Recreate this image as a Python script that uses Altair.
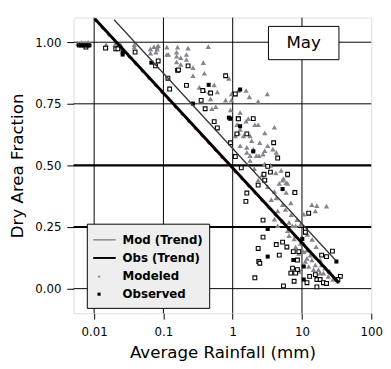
import altair as alt
import pandas as pd

# ---------------- data ----------------
modeled_x = [0.0058, 0.0062, 0.0066, 0.007, 0.0074, 0.0078, 0.0082, 0.0086,
             0.0149, 0.015, 0.02, 0.022, 0.024, 0.023, 0.038, 0.038,
             0.065, 0.073, 0.084, 0.065, 0.078, 0.081, 0.081,
             0.112, 0.112, 0.118, 0.16, 0.155, 0.155, 0.155, 0.178, 0.178,
             0.215, 0.227, 0.215, 0.267, 0.267, 0.377, 0.39, 0.444,
             0.33, 0.39, 0.458, 0.54, 0.6, 0.57, 0.79, 0.96, 0.96, 0.5, 0.48,
             0.88, 1.09, 1.56, 1.74, 2.33, 3.16, 1.21,
             0.93, 1.28, 1.15, 1.56, 2.09, 2.33, 2.9, 4.0, 1.21, 1.43, 1.78, 1.88, 1.28, 1.6, 1.98,
             2.46, 3.2, 2.9, 3.8, 2.4, 1.78, 1.19, 1.28, 1.09, 1.68, 0.93,
             1.6, 2.2, 1.78, 2.05, 2.9, 2.65, 5.0, 5.4, 4.7, 6.2, 7.7, 4.0, 3.6, 5.25, 5.8, 6.9,
             4.46, 4.0, 5.25, 6.5, 8.1, 4.46, 13.9, 15.6, 10.6, 3.2, 2.33, 4.25, 6.2, 5.25, 2.74,
             5.9, 16.4, 22.6, 4.25, 5.9,
             6.2, 6.5, 7.7, 8.1, 9.5, 10.6, 11.8, 13.9, 15.6, 17.3, 20.4, 24, 33, 28, 11.2, 12.5,
             14.7, 18.3, 19.2, 21.6, 11.8, 13.2, 9.0, 7.3, 18.3, 25, 10.6, 9.5,
             3.5, 4.2, 7.0, 8.5, 9.5, 12, 14, 16]
modeled_y = [0.995, 0.99, 1.0, 0.993, 0.998, 0.99, 1.0, 0.995,
             0.99, 0.98, 0.99, 0.985, 0.99, 0.978, 0.99, 0.98,
             0.973, 0.982, 0.986, 0.956, 0.96, 0.98, 0.972,
             0.98, 0.95, 0.95, 0.98, 0.96, 0.92, 0.943, 0.937, 0.91,
             0.95, 0.976, 0.93, 0.897, 0.864, 0.917, 0.874, 0.982,
             0.817, 0.804, 0.798, 0.827, 0.798, 0.738, 0.765, 0.765, 0.79, 0.73, 0.77,
             0.853, 0.79, 0.804, 0.778, 0.76, 0.79, 0.804,
             0.725, 0.715, 0.665, 0.68, 0.665, 0.665, 0.632, 0.655, 0.632, 0.62, 0.62, 0.6, 0.58, 0.573, 0.566,
             0.592, 0.58, 0.56, 0.566, 0.54, 0.54, 0.665, 0.646, 0.62, 0.69, 0.69,
             0.553, 0.54, 0.52, 0.487, 0.507, 0.46, 0.48, 0.447, 0.427, 0.427, 0.394, 0.394, 0.361, 0.341, 0.321, 0.348,
             0.315, 0.282, 0.275, 0.269, 0.255, 0.255, 0.341, 0.315, 0.302, 0.414, 0.44, 0.553, 0.46, 0.44, 0.546,
             0.39, 0.337, 0.335, 0.368, 0.43,
             0.235, 0.215, 0.202, 0.169, 0.183, 0.15, 0.123, 0.116, 0.096, 0.077, 0.063, 0.05, 0.03, 0.037, 0.11, 0.09,
             0.077, 0.063, 0.096, 0.083, 0.156, 0.136, 0.143, 0.255, 0.116, 0.07, 0.183, 0.07,
             0.5, 0.47, 0.3, 0.28, 0.26, 0.22, 0.2, 0.17]

observed_x = [0.0076, 0.0146, 0.0205, 0.022, 0.039, 0.084, 0.116, 0.16, 0.077, 0.165, 0.227, 0.123, 0.215,
              0.37, 0.48, 0.35, 0.79, 1.09, 0.40, 0.54, 0.6, 1.2, 1.21, 1.98, 1.15, 1.6, 0.93, 3.9,
              1.09, 4.46, 1.33, 3.2, 3.5, 6.2, 2.83, 2.9, 2.33, 1.6, 1.55, 7.9, 12.5, 2.74, 11.2, 2.74,
              2.33, 2.38, 4.7, 4.25, 5.25, 6.05, 8.6, 9.0, 7.3, 8.6, 6.9, 8.1, 7.7, 11.8, 12.9, 15.6,
              16.4, 18.3, 20.4, 22.6, 16.4, 5.4, 19.2, 27.5, 22.6, 35.8, 33, 11.2, 7.5, 2.46, 2.09]
observed_y = [0.98, 0.976, 0.973, 0.973, 0.96, 0.924, 0.854, 0.886, 0.904, 0.888, 0.904, 0.81, 0.825,
              0.804, 0.794, 0.764, 0.864, 0.79, 0.73, 0.678, 0.652, 0.69, 0.689, 0.69, 0.628, 0.628, 0.592, 0.592,
              0.536, 0.53, 0.49, 0.496, 0.473, 0.464, 0.464, 0.44, 0.42, 0.388, 0.354, 0.39, 0.306, 0.278, 0.242, 0.209,
              0.163, 0.11, 0.136, 0.179, 0.189, 0.169, 0.116, 0.15, 0.083, 0.077, 0.063, 0.063, 0.03, 0.024, 0.05, 0.057,
              0.037, 0.037, 0.024, 0.021, 0.007, 0.011, 0.136, 0.152, 0.13, 0.05, 0.037, 0.229, 0.15, 0.103, 0.044]

observed_filled_x = [0.006, 0.0065, 0.007, 0.0075, 0.008, 0.0085, 0.0258, 0.0258, 0.067, 0.45, 0.267, 0.88,
                     1.28, 1.28, 0.93, 1.98, 5.25, 3.2, 3.2, 7.5, 10.6, 10.6, 31.4, 10.1]
observed_filled_y = [0.987, 0.987, 0.987, 0.987, 0.987, 0.987, 0.96, 0.95, 0.917, 0.827, 0.751, 0.694,
                     0.659, 0.808, 0.69, 0.557, 0.404, 0.242, 0.13, 0.116, 0.09, 0.037, 0.11, 0.202]

mod_trend_x = [0.0194, 30.8]
mod_trend_y = [1.091, 0.114]
obs_trend_x = [0.0102, 34.0]
obs_trend_y = [1.095, 0.024]

x_ticks = [0.01, 0.1, 1, 10, 100]
y_ticks = [0.0, 0.25, 0.5, 0.75, 1.0]
grid_x = [0.01, 0.1, 1, 10]
grid_y_thin = [0.0, 0.75, 1.0]
grid_y_thick = [0.25, 0.5]
legend_labels = ["Mod (Trend)", "Obs (Trend)", "Modeled", "Observed"]
panel_label = "May"

# ---------------- chart ----------------
FONT = "DejaVu Sans"
GRAY = "#85858f"
W, H = 304, 302

xscale = alt.Scale(type="log", domain=[0.00505, 100], nice=False)
yscale = alt.Scale(domain=[-0.1, 1.1], nice=False, zero=False)

xaxis = alt.Axis(values=x_ticks, labelExpr="datum.value < 1 ? format(datum.value, '.2~f') : format(datum.value, 'd')",
                 title="Average Rainfall (mm)", grid=False, domain=False, tickSize=6, tickColor="black",
                 tickWidth=1, labelPadding=8, labelFont=FONT, labelFontSize=12, labelColor="black",
                 labelFlush=False, labelOverlap=False, titleFont=FONT, titleFontSize=17,
                 titleFontWeight="normal", titleColor="black", titleX=W / 2, titleY=45,
                 titleBaseline="alphabetic", titleAlign="center")
yaxis = alt.Axis(values=y_ticks, format=".2f", title="Dry Area Fraction", grid=False, domain=False,
                 tickSize=7, tickColor="black", tickWidth=1, labelPadding=6, labelFont=FONT,
                 labelFontSize=12, labelColor="black", labelFlush=False, labelOverlap=False,
                 titleFont=FONT, titleFontSize=17, titleFontWeight="normal", titleColor="black",
                 titleX=-52, titleY=H / 2, titleAngle=270, titleBaseline="alphabetic", titleAlign="center")

base_x = alt.X("x:Q", scale=xscale, axis=xaxis)
base_y = alt.Y("y:Q", scale=yscale, axis=yaxis)

gx = alt.Chart(pd.DataFrame({"x": grid_x})).mark_rule(color="black", strokeWidth=1).encode(
    x=alt.X("x:Q", scale=xscale, axis=xaxis))
gy1 = alt.Chart(pd.DataFrame({"y": grid_y_thin})).mark_rule(color="black", strokeWidth=1).encode(
    y=alt.Y("y:Q", scale=yscale, axis=yaxis))
gy2 = alt.Chart(pd.DataFrame({"y": grid_y_thick})).mark_rule(color="black", strokeWidth=2.2).encode(
    y=alt.Y("y:Q", scale=yscale, axis=yaxis))

mod_pts = alt.Chart(pd.DataFrame({"x": modeled_x, "y": modeled_y})).mark_point(
    shape="triangle-up", filled=True, color=GRAY, opacity=1, size=30).encode(x=base_x, y=base_y)
obs_pts = alt.Chart(pd.DataFrame({"x": observed_x, "y": observed_y})).mark_point(
    shape="square", filled=True, fill="white", stroke="black", strokeWidth=1.1, opacity=1, size=15
).encode(x=base_x, y=base_y)
obs_fill = alt.Chart(pd.DataFrame({"x": observed_filled_x, "y": observed_filled_y})).mark_point(
    shape="square", filled=True, color="black", opacity=1, size=17).encode(x=base_x, y=base_y)

mod_line = alt.Chart(pd.DataFrame({"x": mod_trend_x, "y": mod_trend_y})).mark_line(
    color="#333333", strokeWidth=1.3, clip=True).encode(x=base_x, y=base_y)
obs_red = alt.Chart(pd.DataFrame({"x": obs_trend_x, "y": obs_trend_y})).mark_line(
    color="red", strokeWidth=1, strokeDash=[3, 7], yOffset=1.6, xOffset=-0.6, clip=True).encode(x=base_x, y=base_y)
obs_line = alt.Chart(pd.DataFrame({"x": obs_trend_x, "y": obs_trend_y})).mark_line(
    color="black", strokeWidth=3, clip=True).encode(x=base_x, y=base_y)

one = pd.DataFrame({"a": [0]})
# panel label box
may_box = alt.Chart(one).mark_rect(fill="white", stroke="black", strokeWidth=1).encode(
    x=alt.value(199), x2=alt.value(271), y=alt.value(9), y2=alt.value(43))
may_text = alt.Chart(one).mark_text(text=panel_label, font=FONT, fontSize=17, color="black",
                                    align="center", baseline="middle").encode(
    x=alt.value(235), y=alt.value(26.5))

# legend
leg_box = alt.Chart(one).mark_rect(fill="#eeeeee", stroke="black", strokeWidth=1).encode(
    x=alt.value(14), x2=alt.value(139), y=alt.value(211), y2=alt.value(297))
row_y = [227 + 18.5 * i for i in range(len(legend_labels))]
leg_text = alt.Chart(pd.DataFrame({"label": legend_labels, "py": row_y})).mark_text(
    font=FONT, fontSize=12, fontWeight="bold", color="black", align="left", baseline="middle").encode(
    x=alt.value(50), y=alt.Y("py:Q", scale=None), text="label:N")
leg_mod = alt.Chart(one).mark_rule(color="#888888", strokeWidth=1.5).encode(
    x=alt.value(20), x2=alt.value(43), y=alt.value(row_y[0]))
leg_obs = alt.Chart(one).mark_rule(color="black", strokeWidth=2).encode(
    x=alt.value(20), x2=alt.value(43), y=alt.value(row_y[1]))
leg_tri = alt.Chart(one).mark_point(shape="triangle-up", filled=True, color=GRAY, opacity=1, size=10).encode(
    x=alt.value(26), y=alt.value(row_y[2]))
leg_sq = alt.Chart(one).mark_point(shape="square", filled=True, color="black", opacity=1, size=10).encode(
    x=alt.value(26), y=alt.value(row_y[3]))

chart = alt.layer(
    gx, gy1, gy2, mod_pts, obs_pts, obs_fill, obs_red, obs_line, mod_line,
    may_box, may_text, leg_box, leg_mod, leg_obs, leg_tri, leg_sq, leg_text
).properties(
    width=W, height=H,
    autosize=alt.AutoSizeParams(type="none"),
    padding={"left": 67, "top": 6, "right": 12, "bottom": 47},
).configure_view(stroke="black", strokeWidth=2.5).configure(background="white")

chart.save("out.html", embed_options={"renderer": "svg", "actions": False})
